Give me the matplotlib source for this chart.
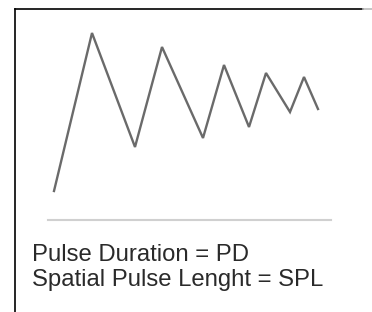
import matplotlib
matplotlib.use("Agg")
import matplotlib.pyplot as plt
from matplotlib.lines import Line2D

# Zigzag pulse (time, amplitude)
time = [6, 44, 87, 114, 155, 176, 201, 218, 242, 256, 270]
amplitude = [29, 187, 73, 173, 82, 155, 93, 147, 108, 143, 111]
baseline_x = [0, 283]
baseline_y = [0, 0]
labels = ["Pulse Duration = PD", "Spatial Pulse Lenght = SPL"]

W, H = 372, 312
fig = plt.figure(figsize=(W / 100, H / 100), dpi=100)
fig.patch.set_facecolor("white")
ax = fig.add_axes([0, 0, 1, 1])
ax.set_xlim(-48, W - 48)
ax.set_ylim(220 - H, 220)
ax.axis("off")

ax.plot(time, amplitude, color="#6a6a6a", lw=1.7, solid_joinstyle="miter")
ax.plot(baseline_x, baseline_y, color="#d0d0d0", lw=1.5)

# frame lines (top and left)
fig.add_artist(Line2D([15 / W, 363 / W], [1 - 9 / H, 1 - 9 / H], color="black", lw=1.2))
fig.add_artist(Line2D([363 / W, 1], [1 - 9 / H, 1 - 9 / H], color="#bbbbbb", lw=1.2))
fig.add_artist(Line2D([15 / W, 15 / W], [0, 1 - 9 / H], color="black", lw=1.2))

for i, t in enumerate(labels):
    fig.text(32 / W, 1 - (261 + 25 * i) / H, t, fontsize=17.2,
             family="Liberation Sans", color="#2a2a2a", va="baseline", ha="left")

fig.savefig("out.png", dpi=100)
